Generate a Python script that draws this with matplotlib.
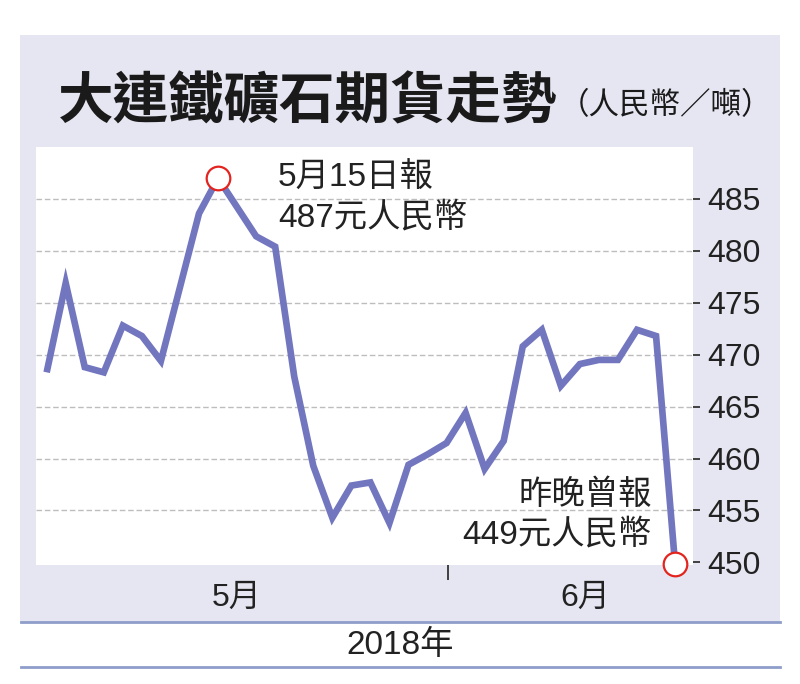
import matplotlib
matplotlib.use("Agg")
import matplotlib.pyplot as plt
from matplotlib.patches import Rectangle
from matplotlib.lines import Line2D

W, H = 800, 684

# trading days 2 May .. 19 Jun 2018, one value per day (RMB / tonne)
prices = [468.3, 476.9, 468.8, 468.3, 472.8, 471.8, 469.4, 476.5, 483.6,
          487.0, 484.2, 481.4, 480.4, 467.9, 459.3, 454.3, 457.4, 457.7,
          453.8, 459.4, 460.4, 461.5, 464.4, 459.0, 461.7, 470.8, 472.4,
          467.0, 469.1, 469.5, 469.5, 472.4, 471.8, 449.8]
yticks = [450, 455, 460, 465, 470, 475, 480, 485]
month_labels = ["5月", "6月"]
month_pos = [10.0, 28.3]
month_break = 21.1
peak_idx = 9
last_idx = len(prices) - 1

fonts = ["Liberation Sans", "Noto Sans CJK TC"]
plt.rcParams["font.family"] = fonts

bg = "#e5e6f1"
line_col = "#7276bf"
red = "#e3241f"
band_col = "#8e9dc9"
txt = "#222222"


def px(x, y):
    return x / W, 1 - y / H


fig = plt.figure(figsize=(W / 100, H / 100), dpi=100)
fig.patch.set_facecolor("white")

# lavender panel
x0, y0 = px(20, 622)
fig.patches.append(Rectangle((x0, y0), 760 / W, 587 / H, transform=fig.transFigure,
                             facecolor=bg, edgecolor="none", zorder=-10))
# bottom band lines
for yy in (622, 667):
    a, b = px(21, yy)
    c, _ = px(780, yy)
    fig.lines.append(Line2D([a, c], [b, b], transform=fig.transFigure,
                            color=band_col, lw=2, zorder=-5))

# title
tx, ty = px(58, 102)
fig.text(tx, ty, "大連鐵礦石期貨走勢", family="Noto Sans CJK TC", weight="bold",
         fontsize=40, color="#1a1a1a", va="center", ha="left")
sx, sy = px(772, 106)
fig.text(sx, sy, "（人民幣／噸）", family="Noto Sans CJK TC", fontsize=22,
         color="#1a1a1a", va="center", ha="right")

bx, by = px(400, 645)
fig.text(bx, by, "2018年", fontsize=24, color=txt, ha="center", va="center")

# plot area
l, b = px(36, 565)
r, t = px(693, 147)
ax = fig.add_axes([l, b, r - l, t - b])
ax.set_facecolor("white")
for s in ax.spines.values():
    s.set_visible(False)

xs = list(range(len(prices)))
ax.plot(xs, prices, color=line_col, lw=4.8, solid_joinstyle="miter",
        solid_capstyle="butt", zorder=3)
ax.plot([peak_idx, last_idx], [prices[peak_idx], prices[last_idx]], "o",
        ms=17, mfc="white", mec=red, mew=1.6, zorder=4, clip_on=False)

ax.set_xlim(-0.56, 33.94)
ax.set_ylim(449.75, 490)

ax.set_yticks(yticks)
ax.yaxis.tick_right()
ax.tick_params(axis="y", direction="out", length=5, width=1.3, color="#333333",
               pad=5, labelsize=23, labelcolor=txt)
for yv in yticks[1:]:
    ax.axhline(yv, color="#bdbdbd", lw=1, ls=(0, (4, 2)), zorder=1)

ax.set_xticks([month_break])
ax.set_xticklabels([""])
ax.tick_params(axis="x", which="major", direction="out", length=11, width=1.3,
               color="#333333")
ax.set_xticks(month_pos, minor=True)
ax.set_xticklabels(month_labels, minor=True)
ax.tick_params(axis="x", which="minor", length=0, pad=13, labelsize=23,
               labelcolor=txt)

ax.annotate("5月15日報\n487元人民幣", xy=(peak_idx, prices[peak_idx]),
            xytext=(60, -20), textcoords="offset pixels", fontsize=24,
            color=txt, ha="left", va="center", linespacing=1.32)
ax.annotate("昨晚曾報\n449元人民幣", xy=(last_idx, prices[last_idx]),
            xytext=(-23, 50), textcoords="offset pixels", fontsize=24,
            color=txt, ha="right", va="center", multialignment="right",
            linespacing=1.32)

fig.savefig("out.png", dpi=100)
